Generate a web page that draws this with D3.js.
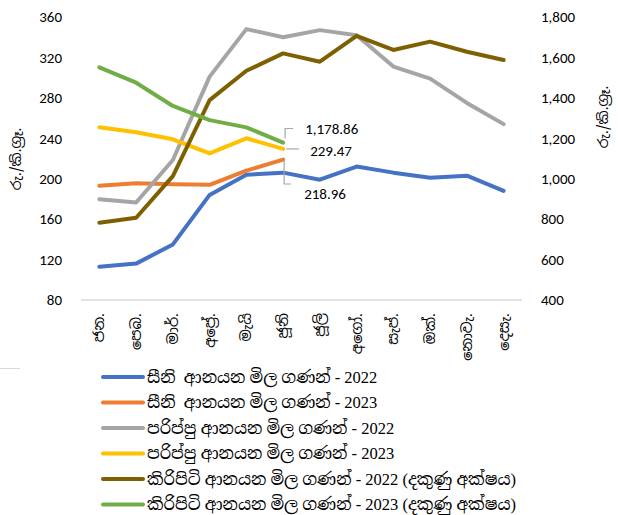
<!DOCTYPE html>
<html>
<head>
<meta charset="utf-8">
<script src="https://cdn.jsdelivr.net/npm/d3@7"></script>
<style>
  body { margin: 0; background: #fff; }
  svg { display: block; }
  .tick-lbl { font-family: Carlito, "Open Sans", "Noto Sans", sans-serif; font-size: 15px; fill: #000; }
  .si { font-family: "Noto Sans Sinhala", "Iskoola Pota", "Noto Serif Sinhala", "Noto Sans", sans-serif; }
  .legend { font-family: "Liberation Serif", "Noto Serif Sinhala", "Noto Sans Sinhala", serif; font-size: 16.5px; white-space: pre; }
</style>
</head>
<body>
<div id="chart"></div>
<script>
const months = ["ජන.", "පෙබ.", "මාර්.", "අප්‍රේ.", "මැයි", "ජූනි", "ජූලි", "අගෝ.", "සැප්.", "ඔක්.", "නොවැ.", "දෙසැ."];
const leftTicks = [80, 120, 160, 200, 240, 280, 320, 360];
const rightTicks = [400, 600, 800, 1000, 1200, 1400, 1600, 1800];

// left axis (rs/kg)
const sugar2022 = [113, 116, 135, 184, 204, 206, 199, 212, 206, 201, 203, 188];
const sugar2023 = [193, 195.5, 194.5, 194, 208, 218.96];
const dhal2022 = [179.6, 176.5, 218.5, 301, 348, 340, 347, 342, 311, 299, 275, 254];
const dhal2023 = [251, 246, 239, 225, 240, 229.47];
// right axis
const milk2022 = [782, 807, 1013, 1389, 1534, 1620, 1579, 1707, 1637, 1678, 1628, 1587];
const milk2023 = [1551, 1475, 1360, 1290, 1254, 1178.86];

const seriesNames = [
  "සීනි  ආනයන මිල ගණන් - 2022",
  "සීනි  ආනයන මිල ගණන් - 2023",
  "පරිප්පු ආනයන මිල ගණන් - 2022",
  "පරිප්පු ආනයන මිල ගණන් - 2023",
  "කිරිපිටි ආනයන මිල ගණන් - 2022 (දකුණු අක්ෂය)",
  "කිරිපිටි ආනයන මිල ගණන් - 2023 (දකුණු අක්ෂය)"
];
const colors = ["#4472C4", "#ED7D31", "#A5A5A5", "#FFC000", "#7F6000", "#70AD47"];
const seriesData = [sugar2022, sugar2023, dhal2022, dhal2023, milk2022, milk2023];
const onRight = [false, false, false, false, true, true];

const W = 618, H = 515;
const svg = d3.select("#chart").append("svg").attr("width", W).attr("height", H);

const x = d3.scaleBand().domain(months).range([81, 522]);
const yL = d3.scaleLinear().domain([80, 360]).range([300, 17]);
const yR = d3.scaleLinear().domain([400, 1800]).range([300, 17]);

// axis line
svg.append("line").attr("x1", 81).attr("x2", 522).attr("y1", yL(80)).attr("y2", yL(80))
  .attr("stroke", "#d9d9d9").attr("stroke-width", 1.3);

// stray separator at left edge
svg.append("line").attr("x1", 0).attr("x2", 20).attr("y1", 368.5).attr("y2", 368.5)
  .attr("stroke", "#d9d9d9").attr("stroke-width", 1);

// left tick labels
svg.append("g").selectAll("text").data(leftTicks).join("text")
  .attr("class", "tick-lbl").attr("x", 62).attr("y", d => yL(d)).attr("dy", "0.35em")
  .attr("text-anchor", "end").text(d => d);

// right tick labels
const fmt = d3.format(",");
svg.append("g").selectAll("text").data(rightTicks).join("text")
  .attr("class", "tick-lbl").attr("x", 541).attr("y", d => yR(d)).attr("dy", "0.35em")
  .attr("text-anchor", "start").text(d => fmt(d));

// month labels (rotated)
svg.append("g").selectAll("text").data(months).join("text")
  .attr("class", "si").attr("font-size", 14.5)
  .attr("transform", d => `translate(${x(d) + x.bandwidth() / 2 + 5},313) rotate(-90)`)
  .attr("text-anchor", "end").text(d => d);

// axis titles
svg.append("text").attr("class", "si").attr("font-size", 14)
  .attr("transform", "translate(21,159) rotate(-90)").attr("text-anchor", "middle")
  .text("රු./කි.ග්‍රෑ.");
svg.append("text").attr("class", "si").attr("font-size", 14)
  .attr("transform", "translate(608,117) rotate(-90)").attr("text-anchor", "middle")
  .text("රු./කි.ග්‍රෑ.");

// lines
const cx = i => x(months[i]) + x.bandwidth() / 2;
seriesData.forEach((vals, s) => {
  const y = onRight[s] ? yR : yL;
  const line = d3.line().x((d, i) => cx(i)).y(d => y(d));
  svg.append("path").datum(vals).attr("d", line)
    .attr("fill", "none").attr("stroke", colors[s]).attr("stroke-width", 4)
    .attr("stroke-linejoin", "round").attr("stroke-linecap", "round");
});

// data labels with leader lines
const lastIdx = 5;
const px = cx(lastIdx);
const lbl = svg.append("g").attr("class", "tick-lbl");
const leader = (pts) => svg.append("path").attr("d", d3.line()(pts))
  .attr("fill", "none").attr("stroke", "#a6a6a6").attr("stroke-width", 1.2);

leader([[px + 2, yR(milk2023[lastIdx]) - 4], [px + 2, 128.5], [px + 10, 128.5]]);
lbl.append("text").attr("x", px + 22).attr("y", 129).attr("dy", "0.35em").text(d3.format(",.2f")(milk2023[lastIdx]));

leader([[px + 3, yL(dhal2023[lastIdx])], [px + 16, yL(dhal2023[lastIdx])]]);
lbl.append("text").attr("x", px + 27).attr("y", 151).attr("dy", "0.35em").text(d3.format(".2f")(dhal2023[lastIdx]));

leader([[px + 1, yL(sugar2023[lastIdx])], [px + 1, 184], [px + 8, 184]]);
lbl.append("text").attr("x", px + 21).attr("y", 194).attr("dy", "0.35em").text(d3.format(".2f")(sugar2023[lastIdx]));

// legend
const lg = svg.append("g").selectAll("g").data(seriesNames).join("g")
  .attr("transform", (d, i) => `translate(103,${377 + i * 25.5})`);
lg.append("line").attr("x1", 0).attr("x2", 40).attr("stroke", (d, i) => colors[i])
  .attr("stroke-width", 4).attr("stroke-linecap", "round");
lg.append("text").attr("class", "legend").attr("x", 44).attr("dy", "0.35em").text(d => d);
</script>
</body>
</html>
